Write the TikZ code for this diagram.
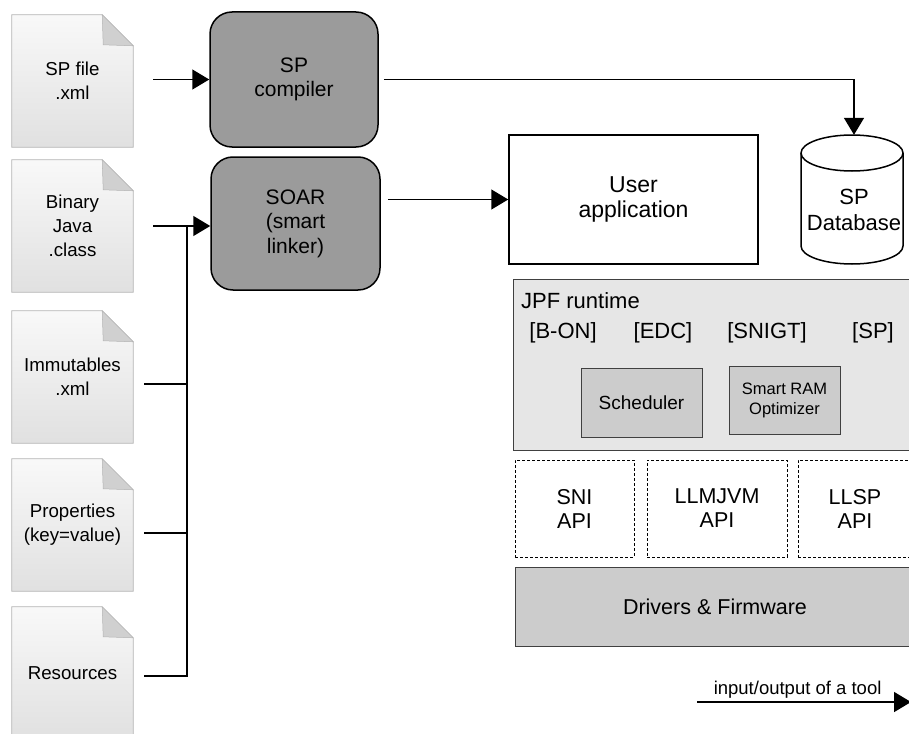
\documentclass[tikz,border=0pt]{standalone}
\usepackage{fontspec}
\setmainfont{Liberation Sans}
\usetikzlibrary{arrows.meta,backgrounds}
\definecolor{toolgray}{HTML}{9B9B9B}
\definecolor{jpfgray}{HTML}{E6E6E6}
\definecolor{midgray}{HTML}{CCCCCC}
\definecolor{docedge}{HTML}{B4B4B4}
\definecolor{docfold}{HTML}{D0D0D0}
\tikzset{
  doc/.style={minimum width=121pt, minimum height=132pt, inner sep=0pt, align=center, font=\fontsize{18.7}{24}\selectfont},
  tool/.style={draw, line width=1.5pt, fill=toolgray, rounded corners=22pt, inner sep=0pt, align=center, font=\fontsize{21}{24.5}\selectfont},
  appbox/.style={draw, line width=1.5pt, fill=white, inner sep=0pt, align=center, font=\fontsize{23}{25}\selectfont},
  layer/.style={draw=black!75, line width=1pt, inner sep=0pt, align=center},
  apibox/.style={draw, dashed, dash pattern=on 3pt off 2pt, line width=0.9pt, inner sep=0pt, align=center, font=\fontsize{21.5}{24}\selectfont},
  tag/.style={inner sep=0pt, font=\fontsize{22}{24}\selectfont},
  flow/.style={line width=1.5pt, -{Triangle[length=17pt,width=20pt]}},
  plain/.style={line width=1.5pt},
}
\newcommand\docshape[1]{%
  \shade[top color=gray!5, bottom color=gray!24, draw=docedge, line width=0.8pt]
    (#1.south west) -- (#1.north west) -- ([xshift=-31pt]#1.north east)
    -- ([yshift=-31pt]#1.north east) -- (#1.south east) -- cycle;
  \fill[docfold, draw=docedge, line width=0.5pt] ([xshift=-31pt]#1.north east)
    -- ([xshift=-30pt,yshift=-30pt]#1.north east) -- ([yshift=-31pt]#1.north east) -- cycle;
}
\begin{document}
\begin{tikzpicture}[x=1pt,y=-1pt]
\useasboundingbox (0,0) rectangle (909,733);
\clip (0,0) rectangle (909,733);

% input files
\node[doc] (f1) at (72.5,81) {SP file\\.xml};
\node[doc] (f2) at (72.5,226) {Binary\\Java\\.class};
\node[doc] (f3) at (72.5,377) {Immutables\\.xml};
\node[doc] (f4) at (72.5,525) {Properties\\(key=value)};
\node[doc] (f5) at (72.5,673) {Resources};
\begin{scope}[on background layer]
  \fill[white] (0,0) rectangle (909,733);
  \docshape{f1}\docshape{f2}\docshape{f3}\docshape{f4}\docshape{f5}
\end{scope}

% tools
\node[tool, minimum width=168pt, minimum height=135pt] (spc) at (294,79.5) {SP\\compiler};
\node[tool, minimum width=169pt, minimum height=133pt] (soar) at (295.5,223.5) {SOAR\\(smart\\linker)};

% user application
\node[appbox, minimum width=249pt, minimum height=129pt] (ua) at (633.5,199.5) {User\\application};

% database
\node[inner sep=0pt, align=center, minimum width=102pt, minimum height=150pt, font=\fontsize{22}{26}\selectfont] (db) at (854,210) {SP\\Database};
\begin{scope}[on background layer]
  \draw[line width=1.5pt, fill=white]
    ([xshift=-53pt,yshift=57pt]db.center) -- ([xshift=-53pt,yshift=-36pt]db.center)
    arc[start angle=180, end angle=360, x radius=51pt, y radius=18pt]
    -- ([xshift=49pt,yshift=57pt]db.center)
    arc[start angle=0, end angle=180, x radius=51pt, y radius=18pt] -- cycle;
  \draw[line width=1.5pt] ([xshift=-53pt,yshift=57pt]db.center)
    arc[start angle=180, end angle=360, x radius=51pt, y radius=18pt];
\end{scope}

% JPF runtime
\node[layer, fill=jpfgray, minimum width=407pt, minimum height=171pt] (jpf) at (716.5,364.5) {};
\node[tag, anchor=west] (jpfl) at (521,301) {JPF runtime};
\node[tag] (t1) at (563,333) {[B-ON]};
\node[tag] (t2) at (663,333) {[EDC]};
\node[tag] (t3) at (767,333) {[SNIGT]};
\node[tag] (t4) at (873,333) {[SP]};
\node[layer, fill=midgray, minimum width=121pt, minimum height=69pt, font=\fontsize{19}{21}\selectfont] (sch) at (641.5,402.5) {Scheduler};
\node[layer, fill=midgray, minimum width=111pt, minimum height=68pt, font=\fontsize{16.5}{20}\selectfont] (sro) at (784.5,400) {Smart RAM\\Optimizer};

% APIs
\node[apibox, minimum width=119pt, minimum height=97pt] (sni) at (574.5,508.5) {SNI\\API};
\node[apibox, minimum width=140pt, minimum height=97pt] (llm) at (717,508.5) {LLMJVM\\API};
\node[apibox, minimum width=114pt, minimum height=97pt] (llsp) at (855,508.5) {LLSP\\API};

% drivers
\node[layer, fill=midgray, minimum width=400pt, minimum height=79pt, font=\fontsize{21.5}{24}\selectfont] (drv) at (715,606.5) {Drivers \& Firmware};

% connectors
\draw[flow] ([xshift=20pt]f1.east |- spc.west) -- (spc.west);
\draw[flow] ([xshift=20pt]f2.east) -- (f2.east -| soar.west);
\coordinate (bus) at (187,226);
\coordinate (b3) at (144,384);
\coordinate (b4) at (144,533);
\coordinate (b5) at (144,676);
\draw[plain] (b3) -| (bus);
\draw[plain] (b4) -| (bus);
\draw[plain] (b5) -| (bus);
\draw[flow] ([xshift=5pt]spc.east) -| (db.north);
\draw[flow] ([xshift=7pt]soar.east |- ua.west) -- (ua.west);

% legend
\coordinate (l1) at (697,702);
\coordinate (l2) at (911,702);
\draw[flow] (l1) -- (l2) node[pos=0.47, above=2pt, inner sep=1pt, font=\fontsize{18.5}{20}\selectfont] (lt) {input/output of a tool};
\end{tikzpicture}
\end{document}
